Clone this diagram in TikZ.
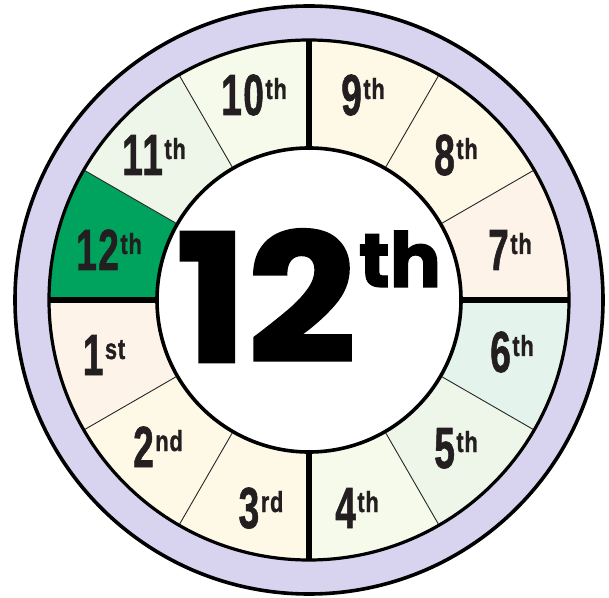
\documentclass[tikz,border=0pt]{standalone}
\usepackage{fontspec}
\setmainfont{Liberation Sans}
\newfontfamily\labfont{Liberation Sans}[LetterSpace=4, BoldFeatures={FakeBold=1.3}]
\newfontfamily\popfont{Poppins}[BoldFeatures={FakeBold=1.5}]
\usepackage{graphicx}
\definecolor{lav}{HTML}{D8D4F0}
\definecolor{txt}{HTML}{231F20}
\definecolor{cA}{HTML}{00A35E}
\definecolor{cB}{HTML}{EEF6EA}
\definecolor{cC}{HTML}{F6FAEB}
\definecolor{cD}{HTML}{FEF8E7}
\definecolor{cE}{HTML}{FDF3E8}
\definecolor{cF}{HTML}{E4F4EC}
\newcommand\lbl[2]{\scalebox{0.64}[1]{\labfont\fontsize{58}{58}\selectfont\bfseries #1}\kern1.5pt\raisebox{16pt}{\scalebox{0.75}[1]{\labfont\fontsize{29}{29}\selectfont\bfseries #2}}}
\begin{document}
\begin{tikzpicture}[x=1pt,y=1pt,
  thinsep/.style={line width=0.9pt, draw=black!85},
  thicksep/.style={line width=5.5pt, draw=black},
  ring/.style={line width=3.2pt, draw=black},
  lab/.style={anchor=base, inner sep=0pt, text=txt},
  big/.style={anchor=base, inner sep=0pt, text=black}]
\useasboundingbox (0,0) rectangle (609,597);
\coordinate (C) at (309,297);
\fill[lav] (C) circle (294);
\draw[ring, line width=3.6pt] (C) circle (294);
\foreach \a/\c in {150/cA,120/cB,90/cC,60/cD,30/cD,0/cE,-30/cF,-60/cB,-90/cC,-120/cD,-150/cD,-180/cE}
  \fill[\c] (C) -- ++(\a:260) arc[start angle=\a, end angle=\a+30, radius=260] -- cycle;
\foreach \a in {30,60,120,150,210,240,300,330}
  \draw[thinsep] ([shift={(\a:150)}]C) -- ([shift={(\a:260)}]C);
\foreach \a in {0,90,180,270}
  \draw[thicksep] ([shift={(\a:150)}]C) -- ([shift={(\a:260)}]C);
\draw[ring] (C) circle (260);
\draw[ring, fill=white, line width=3.6pt] (C) circle (152);
\node[big] (n12) at (266,235) {\scalebox{1.07}[1]{\popfont\bfseries\fontsize{178}{178}\selectfont 12}};
\node[big, font=\popfont\bfseries\fontsize{76}{76}\selectfont] (nth) at (400,310) {th};
\node[lab] (l12) at (109,327) {\lbl{12}{th}};
\node[lab] (l11) at (154,422) {\lbl{11}{th}};
\node[lab] (l10) at (254,482) {\lbl{10}{th}};
\node[lab] (l9) at (363,482) {\lbl{9}{th}};
\node[lab] (l8) at (456,422) {\lbl{8}{th}};
\node[lab] (l7) at (510,327) {\lbl{7}{th}};
\node[lab] (l6) at (512,225) {\lbl{6}{th}};
\node[lab] (l5) at (456,129) {\lbl{5}{th}};
\node[lab] (l4) at (357,69) {\lbl{4}{th}};
\node[lab] (l3) at (261,69) {\lbl{3}{rd}};
\node[lab] (l2) at (158,130) {\lbl{2}{nd}};
\node[lab] (l1) at (104,222) {\lbl{1}{st}};
\end{tikzpicture}
\end{document}
